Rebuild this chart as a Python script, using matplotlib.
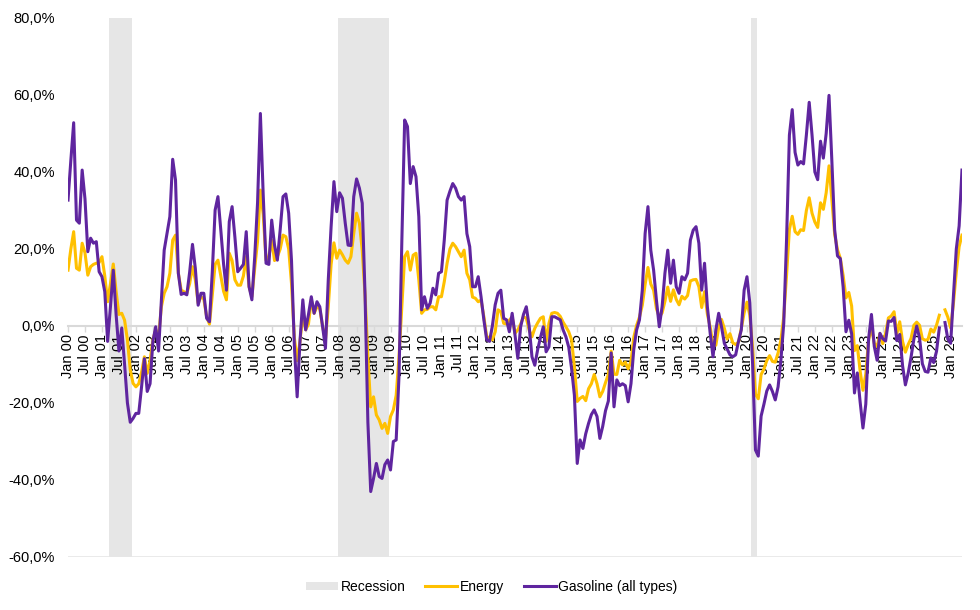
import numpy as np
import pandas as pd
import matplotlib.pyplot as plt
from matplotlib.patches import Patch
from matplotlib.lines import Line2D
from matplotlib.ticker import FuncFormatter

nan = np.nan

# Year-over-year change (%), monthly from Jan 2000
energy = [
    # 2000
    14.5, 20.0, 24.5, 15.0, 14.5, 21.5, 19.0, 13.2, 15.4, 16.0, 16.3, 16.5,
    # 2001
    18.0, 13.0, 6.3, 11.0, 16.1, 9.0, 3.0, 3.3, 1.5, -3.6, -11.4, -14.9,
    # 2002
    -15.8, -15.0, -12.0, -8.0, -12.3, -9.0, -3.6, -1.0, -3.0, 5.0, 8.5, 10.2,
    # 2003
    13.7, 22.3, 23.6, 13.7, 9.3, 8.9, 8.5, 11.0, 15.4, 12.0, 5.9, 7.6,
    # 2004
    7.0, 2.4, 0.5, 8.0, 16.0, 17.1, 13.0, 9.0, 6.8, 18.9, 17.0, 12.0,
    # 2005
    10.6, 10.6, 13.0, 18.0, 10.2, 7.6, 15.0, 22.0, 35.3, 29.0, 17.1, 18.0,
    # 2006
    22.3, 17.0, 18.0, 20.0, 23.6, 23.2, 20.0, 11.0, -3.0, -9.0, -4.0, 3.0,
    # 2007
    -1.0, 0.5, 6.8, 3.3, 5.0, 4.5, -0.2, -3.6, 5.0, 16.0, 21.6, 17.6,
    # 2008
    19.7, 18.5, 17.1, 16.3, 18.0, 24.0, 29.3, 26.7, 19.7, 8.0, -8.0, -21.0,
    # 2009
    -18.4, -23.1, -24.4, -26.6, -25.3, -27.9, -23.5, -21.8, -18.0, -8.0, 5.0, 18.0,
    # 2010
    19.3, 14.5, 18.4, 18.9, 12.0, 3.3, 4.2, 4.3, 5.0, 5.0, 4.2, 7.6,
    # 2011
    7.6, 11.5, 16.3, 20.0, 21.5, 20.6, 19.3, 18.0, 19.7, 13.7, 12.0, 7.5,
    # 2012
    7.2, 6.3, 6.7, 2.4, -2.8, -3.0, -3.6, -1.5, 4.2, 3.7, 0.7, 0.5,
    # 2013
    1.5, 2.4, -1.9, -1.0, 0.5, 2.4, 2.0, -1.0, -2.8, -0.6, 0.8, 2.0,
    # 2014
    2.4, -4.0, 0.7, 3.3, 3.5, 3.3, 2.5, 1.0, -0.2, -1.5, -3.6, -10.6,
    # 2015
    -19.6, -18.8, -18.3, -19.4, -16.3, -15.0, -12.6, -15.0, -18.4, -17.0, -14.7, -12.6,
    # 2016
    -6.5, -12.5, -12.6, -8.9, -10.1, -9.4, -11.1, -9.2, -2.9, 0.2, 2.3, 5.4,
    # 2017
    10.8, 15.2, 10.9, 9.3, 4.5, 2.3, 3.4, 6.4, 10.1, 6.4, 9.4, 6.9,
    # 2018
    5.5, 7.7, 7.0, 7.9, 11.7, 12.0, 12.1, 10.2, 4.8, 8.9, 3.1, -0.3,
    # 2019
    -4.9, -5.0, -0.4, 1.7, -0.6, -3.4, -2.0, -4.4, -4.8, -4.2, -0.6, 3.4,
    # 2020
    6.2, 2.8, -5.7, -17.7, -18.9, -12.6, -11.2, -9.0, -7.7, -9.2, -9.4, -7.0,
    # 2021
    -3.6, 2.4, 13.2, 25.1, 28.5, 24.5, 23.8, 25.0, 24.8, 30.0, 33.3, 29.3,
    # 2022
    27.0, 25.6, 32.0, 30.3, 34.6, 41.6, 32.9, 23.8, 19.8, 17.6, 13.1, 7.3,
    # 2023
    8.7, 5.2, -6.4, -5.1, -11.7, -16.7, -12.5, -3.6, -0.5, -4.5, -5.4, -2.0,
    # 2024
    -4.6, -1.9, 2.1, 2.6, 3.7, -2.0, 1.1, -4.0, -6.8, -4.8, -3.2, 0.2,
    # 2025
    1.0, 0.2, -3.3, -3.7, -3.5, -0.8, -1.6, 0.2, 2.8, nan, 4.2, 2.3,
    # 2026
    -0.5, 6.0, 14.0, 20.6, 23.6,
]

gasoline = [
    # 2000
    32.7, 43.0, 52.8, 27.5, 26.7, 40.5, 33.0, 19.3, 22.8, 21.5, 21.9, 14.1,
    # 2001
    12.8, 8.9, -4.0, 5.0, 14.5, 3.0, -6.5, -0.5, -10.0, -20.0, -25.0, -24.0,
    # 2002
    -22.7, -22.7, -15.8, -8.5, -17.0, -15.0, -4.0, -0.2, -6.5, 6.7, 19.7, 24.0,
    # 2003
    28.4, 43.3, 37.9, 13.7, 8.2, 8.5, 8.1, 14.0, 21.2, 15.0, 5.4, 8.5,
    # 2004
    8.5, 2.0, 1.1, 14.0, 30.1, 33.6, 25.0, 16.0, 9.3, 27.1, 31.0, 23.0,
    # 2005
    14.1, 15.0, 16.0, 24.5, 10.2, 6.8, 18.0, 32.0, 55.2, 34.0, 16.3, 16.0,
    # 2006
    27.5, 21.0, 17.1, 25.0, 33.6, 34.3, 29.3, 17.0, -5.0, -18.4, -4.0, 6.8,
    # 2007
    -1.0, 3.0, 7.6, 3.3, 6.3, 5.0, -0.2, -5.8, 12.0, 25.8, 37.5, 29.7,
    # 2008
    34.6, 33.2, 26.7, 21.0, 20.9, 33.6, 38.2, 35.8, 31.9, 8.0, -25.0, -43.0,
    # 2009
    -39.6, -35.7, -39.1, -39.6, -36.0, -34.8, -37.4, -30.0, -29.6, -13.0, 22.0, 53.5,
    # 2010
    51.8, 37.0, 41.4, 38.8, 28.4, 4.2, 7.6, 4.6, 5.9, 9.8, 8.1, 13.7,
    # 2011
    14.1, 22.3, 32.7, 35.0, 37.0, 35.8, 33.6, 32.7, 33.6, 24.0, 20.6, 10.2,
    # 2012
    10.2, 12.8, 7.6, 1.6, -3.6, -4.0, 0.0, 5.5, 8.5, 9.3, 2.0, 1.6,
    # 2013
    -1.5, 3.3, -2.3, -8.4, -0.2, 3.0, 5.0, 0.0, -8.0, -10.2, -6.2, -3.0,
    # 2014
    -0.2, -6.7, -5.4, 2.4, 2.4, 2.0, 1.6, -1.0, -2.8, -5.5, -11.0, -18.0,
    # 2015
    -35.7, -29.6, -31.8, -28.0, -25.3, -23.0, -21.8, -23.5, -29.2, -26.1, -22.0, -19.5,
    # 2016
    -7.0, -21.0, -14.0, -15.5, -15.0, -15.5, -19.7, -15.0, -6.0, -1.0, 1.6, 9.3,
    # 2017
    24.0, 31.0, 19.7, 14.5, 6.7, -0.2, 5.0, 13.7, 19.7, 11.1, 17.1, 10.2,
    # 2018
    8.5, 12.8, 12.0, 13.7, 22.3, 24.9, 25.8, 21.5, 9.3, 16.3, 5.0, -1.9,
    # 2019
    -8.0, -1.0, 3.3, -0.2, -4.5, -6.0, -7.5, -8.0, -7.5, -4.0, -1.0, 9.3,
    # 2020
    12.8, 6.0, -10.0, -32.2, -33.8, -23.4, -20.3, -16.9, -15.3, -17.0, -19.2, -15.8,
    # 2021
    -8.8, 0.7, 22.5, 49.6, 56.2, 45.1, 41.8, 42.7, 42.1, 49.6, 58.1, 49.6,
    # 2022
    40.0, 38.0, 48.0, 43.6, 50.0, 59.9, 43.0, 25.0, 18.2, 17.5, 10.1, -1.5,
    # 2023
    1.5, -2.0, -17.4, -12.2, -19.7, -26.5, -20.3, -3.3, 3.0, -5.3, -8.9, -1.9,
    # 2024
    -3.3, -3.9, 1.3, 1.2, 2.2, -3.8, -2.2, -10.3, -15.3, -12.2, -8.1, -3.4,
    # 2025
    0.0, -3.1, -9.8, -11.8, -12.0, -8.3, -9.5, -6.6, -0.5, nan, 0.9, -3.4,
    # 2026
    -4.5, 8.0, 20.0, 26.0, 40.5,
]

# NBER recession months (first, last)
recessions = [('2001-04', '2001-11'), ('2008-01', '2009-06'), ('2020-03', '2020-04')]

dates = pd.date_range('2000-01-01', periods=len(energy), freq='MS')
x = np.arange(len(dates))

plt.rcParams['font.family'] = ['Liberation Sans', 'DejaVu Sans']

fig = plt.figure(figsize=(9.8, 6.1), dpi=100)
ax = fig.add_axes([0.0694, 0.0869, 0.9122, 0.8836])

# Recession shading
for start, end in recessions:
    i0 = dates.get_loc(pd.Timestamp(start))
    i1 = dates.get_loc(pd.Timestamp(end))
    ax.axvspan(i0 - 0.5, i1 + 0.5, color='#e6e6e6', lw=0, zorder=0)

ax.plot(x, energy, color='#ffc000', lw=2.2, zorder=3, solid_joinstyle='round')
ax.plot(x, gasoline, color='#5f259f', lw=2.2, zorder=4, solid_joinstyle='round')

ax.set_xlim(x[0], x[-1])
ax.set_ylim(-60, 80)

# Y axis
ax.set_yticks(np.arange(-60, 81, 20))
ax.yaxis.set_major_formatter(FuncFormatter(lambda v, p: f'{v:.1f}%'.replace('.', ',')))
ax.tick_params(axis='y', length=0, pad=9.5, labelsize=10.5)

# X axis sits on zero
tick_idx = x[::6]
tick_labels = [d.strftime('%b %y') for d in dates[::6]]
ax.set_xticks(tick_idx)
ax.set_xticklabels(tick_labels)
ax.tick_params(axis='x', length=4, width=1, color='#d9d9d9', pad=2,
               labelsize=10.5, labelrotation=90)
ax.spines['bottom'].set_position(('data', 0))
ax.spines['bottom'].set_color('#d9d9d9')
ax.spines['bottom'].set_linewidth(1.5)
ax.spines['bottom'].set_zorder(2)
for s in ['left', 'right', 'top']:
    ax.spines[s].set_visible(False)
ax.axhline(-60, color='#e6e6e6', lw=1.2, zorder=1)

handles = [
    Patch(facecolor='#e6e6e6', edgecolor='none', label='Recession'),
    Line2D([], [], color='#ffc000', lw=2.2, label='Energy'),
    Line2D([], [], color='#5f259f', lw=2.2, label='Gasoline (all types)'),
]
fig.legend(handles=handles, loc='center', bbox_to_anchor=(0.502, 0.038), ncol=3,
           frameon=False, fontsize=10, handlelength=2.3, handleheight=0.6,
           handletextpad=0.2, columnspacing=1.4)

fig.savefig('out.png', dpi=100)
